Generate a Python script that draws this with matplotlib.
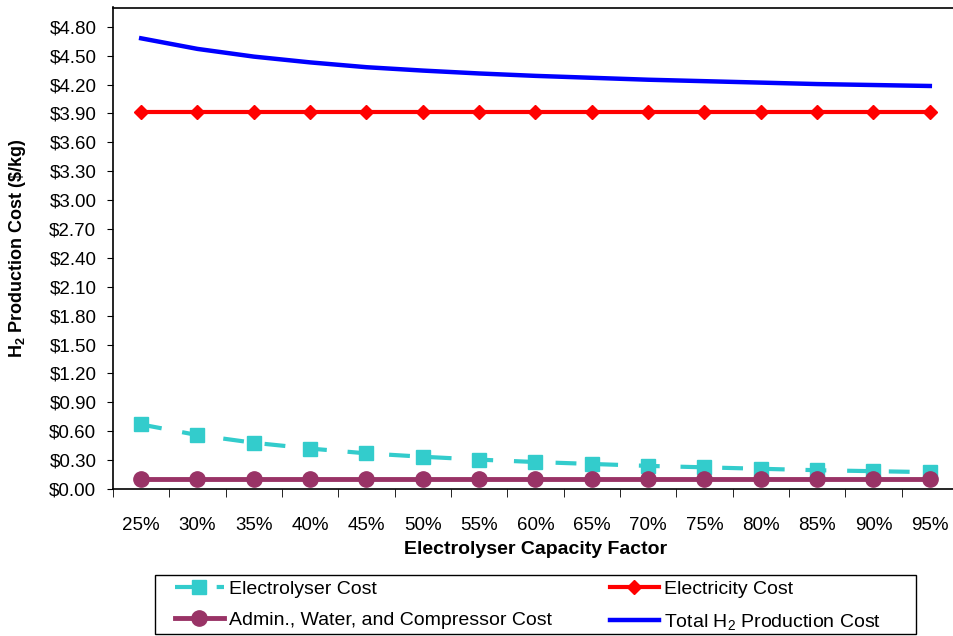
import matplotlib.pyplot as plt
from matplotlib.patches import Rectangle
import numpy as np

plt.rcParams['font.family'] = ['Liberation Sans', 'DejaVu Sans']
plt.rcParams['mathtext.default'] = 'regular'

# data
capacity = ['25%', '30%', '35%', '40%', '45%', '50%', '55%', '60%',
            '65%', '70%', '75%', '80%', '85%', '90%', '95%']
electrolyser = [0.67, 0.56, 0.48, 0.42, 0.37, 0.335, 0.305, 0.28,
                0.26, 0.24, 0.225, 0.21, 0.195, 0.185, 0.175]
electricity = [3.91] * 15
admin = [0.10] * 15
total = [4.68, 4.57, 4.49, 4.43, 4.38, 4.345, 4.315, 4.29,
         4.27, 4.25, 4.235, 4.22, 4.205, 4.195, 4.185]
yticks = np.arange(0, 4.81, 0.3)

W, H = 954, 636
fig = plt.figure(figsize=(W/100, H/100), dpi=100)
ax = fig.add_axes([113/W, 1-489/H, 845/W, (489-7.5)/H])

x = np.arange(len(capacity))
l1, = ax.plot(x, electrolyser, color='#33CCCC', lw=3, dashes=(5, 5),
              marker='s', ms=10.5, label='Electrolyser Cost')
l2, = ax.plot(x, admin, color='#993366', lw=3.5, marker='o', ms=11,
              label='Admin., Water, and Compressor Cost')
l3, = ax.plot(x, electricity, color='#FF0000', lw=3, marker='D', ms=7.5,
              label='Electricity Cost')
l4, = ax.plot(x, total, color='#0000FF', lw=3.2,
              label='Total H$_2$ Production Cost')

ax.set_xlim(-0.5, len(capacity) - 0.5)
ax.set_ylim(0, 5.0)
ax.set_yticks(yticks)
ax.set_yticklabels(['${:.2f}'.format(v) for v in yticks], fontsize=13.5)
ax.tick_params(axis='y', direction='out', length=4, pad=8)

ax.set_xticks(x)
ax.set_xticklabels(capacity, fontsize=13.5)
ax.set_xticks(np.arange(-0.5, len(capacity)), minor=True)
ax.tick_params(axis='x', which='major', length=0, pad=20)
ax.tick_params(axis='x', which='minor', direction='out', length=5.5)

for s in ax.spines.values():
    s.set_linewidth(1.2)

ax.set_xlabel('Electrolyser Capacity Factor', fontsize=14, fontweight='bold',
              labelpad=5)
ax.set_ylabel('H$_2$ Production Cost (\\$/kg)', fontsize=13,
              fontweight='bold')
ax.yaxis.set_label_coords((28-113)/845, 0.5)

# legend: two columns placed separately, box drawn by hand
opts = dict(loc='upper left', fontsize=14, handlelength=2.5,
            handletextpad=0.3, frameon=False, borderpad=0,
            borderaxespad=0, labelspacing=0.72)
fig.legend([l1, l2], [l1.get_label(), l2.get_label()],
           bbox_to_anchor=(175/W, 1-580/H), **opts)
fig.legend([l3, l4], [l3.get_label(), l4.get_label()],
           bbox_to_anchor=(610/W, 1-580/H), **opts)
fig.patches.append(Rectangle((155/W, 1-634/H), (916-155)/W, (634-575)/H,
                             transform=fig.transFigure, fill=False,
                             edgecolor='black', lw=1.0))

fig.savefig('out.png', dpi=100)
